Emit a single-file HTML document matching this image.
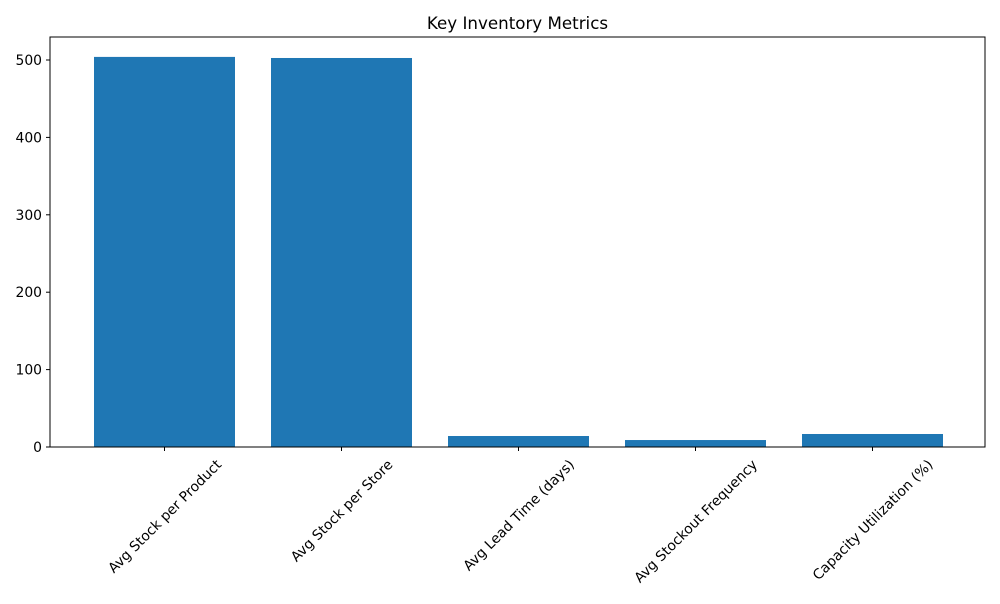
<!DOCTYPE html>
<html><head><meta charset="utf-8"><style>
body{margin:0;background:#fff;font-family:"DejaVu Sans","Liberation Sans",sans-serif}
</style></head><body>
<svg width="1000" height="600" id="c" xmlns="http://www.w3.org/2000/svg" font-family="DejaVu Sans, Liberation Sans, sans-serif">
<text x="517.5" y="29" font-size="16.7" text-anchor="middle">Key Inventory Metrics</text>
</svg>
<script>
const categories=["Avg Stock per Product","Avg Stock per Store","Avg Lead Time (days)","Avg Stockout Frequency","Capacity Utilization (%)"];
const values=[504,502.6,14.2,9,16.8];
const yTicks=[0,100,200,300,400,500];
const svg=document.getElementById('c');const NS="http://www.w3.org/2000/svg";
const L=50,R=985,T=37,B=447;
const y=v=>B-v*0.774;
const x=i=>164.5+i*177;
function mk(t,a){const e=document.createElementNS(NS,t);for(const k in a)e.setAttribute(k,a[k]);svg.appendChild(e);return e;}
values.forEach((v,i)=>{
 const r=mk('rect',{x:x(i)-70.5,y:y(v),width:141,height:B-y(v),fill:'#1f77b4'});
 
 
});
yTicks.forEach(t=>{
 const l=mk('line',{x1:L-4,x2:L,y1:y(t),y2:y(t),stroke:'#000','stroke-width':1});
 
 
 const tx=mk('text',{x:L-8,y:y(t)+5,'font-size':13.9,'text-anchor':'end'});tx.textContent=t;
 
 
});
categories.forEach((c,i)=>{
 const l=mk('line',{x1:x(i),x2:x(i),y1:B,y2:B+4,stroke:'#000','stroke-width':1});
 
 
 const tx=mk('text',{x:0,y:0,'font-size':13.9,'text-anchor':'middle'});tx.textContent=c;
 const w=tx.getComputedTextLength();
 const h=(w+13.9)*0.7071;
 const cx=x(i),cy=B+10+h/2;
 tx.setAttribute('x',cx);tx.setAttribute('y',cy+5);
 tx.setAttribute('transform',`rotate(-45 ${cx} ${cy})`);
 
 
});
const f=mk('rect',{x:L,y:T,width:R-L,height:B-T,fill:'none',stroke:'#000','stroke-width':1});


</script>
</body></html>
